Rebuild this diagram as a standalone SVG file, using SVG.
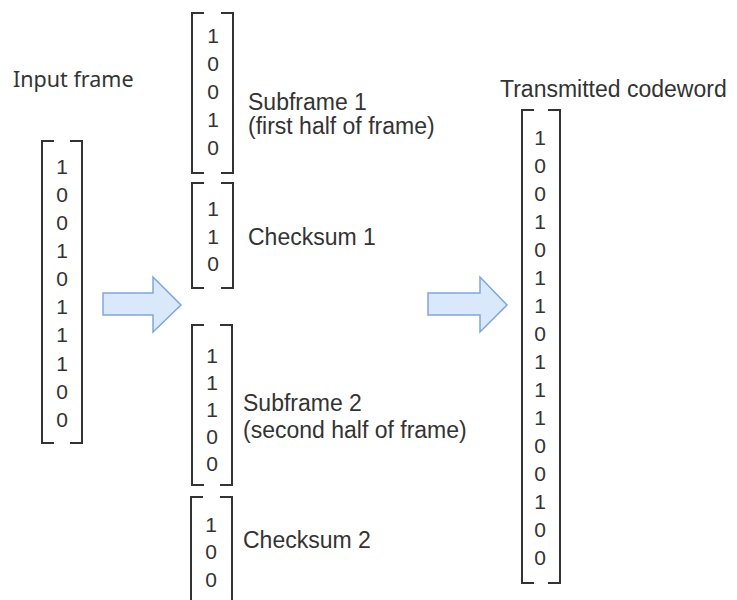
<svg xmlns="http://www.w3.org/2000/svg" width="737" height="600" viewBox="0 0 737 600">
<style>
text{font-family:"Liberation Sans",Arial,sans-serif;fill:#333}
.lbl{font-size:23px}
.seg{font-family:"Noto Sans","Open Sans",sans-serif;font-size:21.5px}
.d{font-size:21px;text-anchor:middle}
.br{fill:none;stroke:#333;stroke-width:2}
.arr{fill:#dae8fc;stroke:#7ea6e0;stroke-width:1.5}
</style>
<rect width="737" height="600" fill="#fff"/>
<g id="input-frame">
<text class="seg" x="13" y="87">Input frame</text>
<path class="br" d="M54,141H42V443H54M70,141H82V443H70"/>
<text class="d" x="62" y="174">1</text><text class="d" x="62" y="202">0</text><text class="d" x="62" y="230">0</text><text class="d" x="62" y="258">1</text><text class="d" x="62" y="286">0</text><text class="d" x="62" y="314">1</text><text class="d" x="62" y="342">1</text><text class="d" x="62" y="371">1</text><text class="d" x="62" y="399">0</text><text class="d" x="62" y="427">0</text>
</g>
<g id="subframe1">
<path class="br" d="M204,13H192V173H204M221,13H233V173H221"/>
<text class="d" x="213" y="43">1</text><text class="d" x="213" y="71">0</text><text class="d" x="213" y="99">0</text><text class="d" x="213" y="127">1</text><text class="d" x="213" y="155">0</text>
<text class="lbl" x="248" y="110">Subframe 1</text>
<text class="lbl" x="248" y="134">(first half of frame)</text>
</g>
<g id="checksum1">
<path class="br" d="M204,183H192V288H204M221,183H233V288H221"/>
<text class="d" x="213" y="216">1</text><text class="d" x="213" y="244">1</text><text class="d" x="213" y="271">0</text>
<text class="lbl" x="248" y="245">Checksum 1</text>
</g>
<g id="subframe2">
<path class="br" d="M204,325H192V485H204M220,325H232V485H220"/>
<text class="d" x="212" y="363">1</text><text class="d" x="212" y="390">1</text><text class="d" x="212" y="417">1</text><text class="d" x="212" y="444">0</text><text class="d" x="212" y="471">0</text>
<text class="lbl" x="243" y="411">Subframe 2</text>
<text class="lbl" x="243" y="438">(second half of frame)</text>
</g>
<g id="checksum2">
<path class="br" d="M203,497H191V606H203M220,497H232V606H220"/>
<text class="d" x="211" y="532">1</text><text class="d" x="211" y="559">0</text><text class="d" x="211" y="587">0</text>
<text class="lbl" x="243" y="548">Checksum 2</text>
</g>
<g id="codeword">
<text class="lbl" x="500" y="97">Transmitted codeword</text>
<path class="br" d="M534,110H522V583H534M548,110H560V583H548"/>
<text class="d" x="540" y="145">1</text><text class="d" x="540" y="173">0</text><text class="d" x="540" y="201">0</text><text class="d" x="540" y="229">1</text><text class="d" x="540" y="257">0</text><text class="d" x="540" y="285">1</text><text class="d" x="540" y="313">1</text><text class="d" x="540" y="341">0</text><text class="d" x="540" y="369">1</text><text class="d" x="540" y="397">1</text><text class="d" x="540" y="425">1</text><text class="d" x="540" y="453">0</text><text class="d" x="540" y="481">0</text><text class="d" x="540" y="509">1</text><text class="d" x="540" y="537">0</text><text class="d" x="540" y="565">0</text>
</g>
<g id="connectors">
<path class="arr" d="M103,293H153V277L181,305L153,332V315H103Z"/>
<path class="arr" d="M428,293H480V277L507,305L480,332V315H428Z"/>
</g>
</svg>
